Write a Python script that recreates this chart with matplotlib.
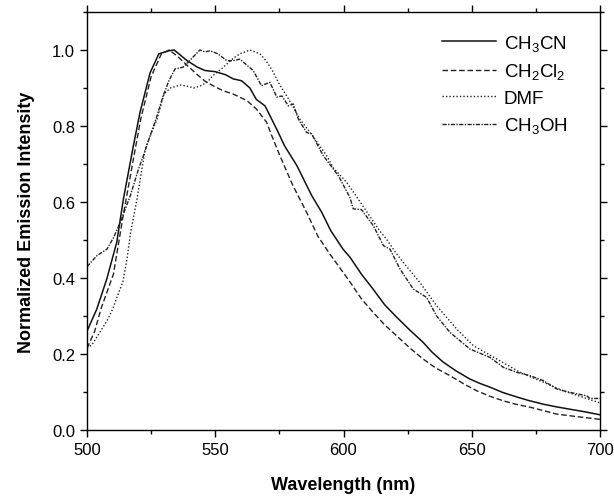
import numpy as np
import matplotlib
matplotlib.use("Agg")
import matplotlib.pyplot as plt
from matplotlib.ticker import MultipleLocator

plt.rcParams['font.family'] = ['Liberation Sans', 'DejaVu Sans']
plt.rcParams['mathtext.default'] = 'regular'

# CH3CN (solid)
wl_ch3cn = [500, 503.8, 507.7, 511.6, 514.2, 518, 520.7, 524.6, 528, 532, 534, 539, 543, 546, 550,
            554, 557, 560.3, 563.5, 566, 569.4, 572, 574.5, 577, 581.8, 587.6, 591.5, 595, 599.8,
            602.5, 607, 611.5, 616, 620.7, 626, 631, 634.5, 638.8, 644, 649.3, 653, 657, 662,
            667.5, 672, 677.8, 683, 688, 694, 700]
int_ch3cn = [0.26, 0.318, 0.397, 0.494, 0.608, 0.745, 0.837, 0.94, 0.99, 0.998, 1.0, 0.972, 0.955,
             0.946, 0.943, 0.935, 0.924, 0.919, 0.90, 0.87, 0.853, 0.818, 0.784, 0.748, 0.696,
             0.617, 0.573, 0.525, 0.476, 0.455, 0.41, 0.371, 0.33, 0.297, 0.262, 0.231, 0.205,
             0.179, 0.155, 0.134, 0.123, 0.113, 0.099, 0.087, 0.078, 0.068, 0.061, 0.055, 0.048,
             0.040]

# CH2Cl2 (dashed)
wl_ch2cl2 = [500, 503, 505.5, 510.3, 514, 518, 521, 525, 529, 532, 535, 539, 543, 546, 549.4, 553,
             557, 562.3, 566, 570, 572, 575, 580.3, 585.6, 590, 594.7, 602.5, 607, 611.5, 616,
             620.7, 626, 631, 636, 641.5, 647, 652, 657, 662.2, 667, 672.7, 678, 683, 690, 700]
int_ch2cl2 = [0.215, 0.26, 0.32, 0.41, 0.56, 0.71, 0.82, 0.93, 0.99, 1.0, 0.985, 0.96, 0.935,
              0.918, 0.905, 0.893, 0.884, 0.867, 0.845, 0.81, 0.775, 0.725, 0.643, 0.573, 0.51,
              0.463, 0.39, 0.345, 0.31, 0.277, 0.248, 0.215, 0.187, 0.163, 0.143, 0.121, 0.103,
              0.089, 0.077, 0.068, 0.060, 0.051, 0.042, 0.036, 0.028]

# DMF (dotted)
wl_dmf = [500, 502, 505, 508, 510, 512, 514, 515.6, 517, 519.5, 521, 522.7, 525, 527.3, 530, 532.5,
          536.4, 539, 541.6, 544, 546.8, 549, 552, 554.5, 557, 559.6, 563.5, 567.4, 570, 572.6,
          575, 577.8, 580.4, 583, 588, 593.4, 596, 601.2, 605, 608, 611, 614, 617, 620, 623.3,
          629.8, 636.3, 644.1, 650.6, 659.7, 668.8, 677.9, 685.7, 693.5, 700]
int_dmf = [0.215, 0.225, 0.257, 0.29, 0.318, 0.355, 0.39, 0.45, 0.52, 0.608, 0.67, 0.74, 0.78,
           0.818, 0.884, 0.90, 0.908, 0.905, 0.90, 0.905, 0.915, 0.932, 0.948, 0.963, 0.978, 0.99,
           1.0, 0.99, 0.97, 0.942, 0.91, 0.88, 0.85, 0.818, 0.774, 0.722, 0.69, 0.652, 0.615,
           0.585, 0.555, 0.525, 0.50, 0.47, 0.441, 0.388, 0.327, 0.266, 0.222, 0.187, 0.152,
           0.126, 0.103, 0.086, 0.071]

# CH3OH (dash-dot)
wl_ch3oh = [500, 503.9, 507.8, 510.4, 513, 516.9, 520.1, 522, 524.6, 527, 529.7, 532, 534.3, 537.5,
            540, 544, 546, 548, 551, 554.5, 557, 559.6, 562, 564.8, 568, 571.3, 574, 576, 578.5,
            580.4, 582.4, 585.6, 587.6, 592.1, 598, 602.5, 603.8, 607, 611.6, 615.6, 618.1, 622,
            627.2, 632.4, 636.3, 641.5, 649.3, 657.1, 662.3, 667.5, 672.7, 677.9, 683.1, 688.3,
            694.8, 696.1, 700]
int_ch3oh = [0.43, 0.459, 0.476, 0.507, 0.547, 0.617, 0.687, 0.722, 0.774, 0.82, 0.88, 0.92, 0.95,
             0.955, 0.972, 1.0, 0.995, 0.998, 0.99, 0.972, 0.972, 0.976, 0.962, 0.946, 0.906,
             0.915, 0.876, 0.879, 0.853, 0.858, 0.818, 0.783, 0.779, 0.722, 0.669, 0.612, 0.582,
             0.58, 0.538, 0.485, 0.476, 0.424, 0.371, 0.349, 0.30, 0.257, 0.213, 0.191, 0.165,
             0.152, 0.143, 0.13, 0.108, 0.099, 0.09, 0.083, 0.083]

labels = [r'CH$_3$CN', r'CH$_2$Cl$_2$', 'DMF', r'CH$_3$OH']

fig = plt.figure(figsize=(6.14, 5.02), dpi=100)
ax = fig.add_axes([87/614, 1 - 431/502, 513/614, 418/502])

ax.plot(wl_ch3cn, int_ch3cn, color='#111111', lw=1.1, ls='-', label=labels[0])
ax.plot(wl_ch2cl2, int_ch2cl2, color='#222222', lw=1.0, ls=(0, (4, 2)), label=labels[1])
ax.plot(wl_dmf, int_dmf, color='#222222', lw=1.0, ls=(0, (1, 1.5)), label=labels[2])
ax.plot(wl_ch3oh, int_ch3oh, color='#222222', lw=1.0, ls=(0, (3, 1, 1, 1)), label=labels[3])

ax.set_xlim(500, 700)
ax.set_ylim(0, 1.1)
ax.xaxis.set_major_locator(MultipleLocator(50))
ax.xaxis.set_minor_locator(MultipleLocator(25))
ax.yaxis.set_major_locator(MultipleLocator(0.2))
ax.yaxis.set_minor_locator(MultipleLocator(0.1))
ax.yaxis.set_major_formatter(matplotlib.ticker.FormatStrFormatter('%.1f'))
ax.tick_params(which='both', direction='out', top=True, right=True, labelsize=12, width=1)
ax.tick_params(which='major', length=5)
ax.tick_params(which='minor', length=3)
for s in ax.spines.values():
    s.set_linewidth(1.0)

ax.set_xlabel('Wavelength (nm)', fontsize=13, fontweight='bold', labelpad=14)
ax.set_ylabel('Normalized Emission Intensity', fontsize=13, fontweight='bold', labelpad=12)

ax.legend(loc='upper left', bbox_to_anchor=(0.692, 0.95), frameon=False, fontsize=13.5,
          handlelength=2.9, handletextpad=0.4, labelspacing=0.45, borderpad=0, borderaxespad=0)

fig.savefig('out.png', dpi=100)
